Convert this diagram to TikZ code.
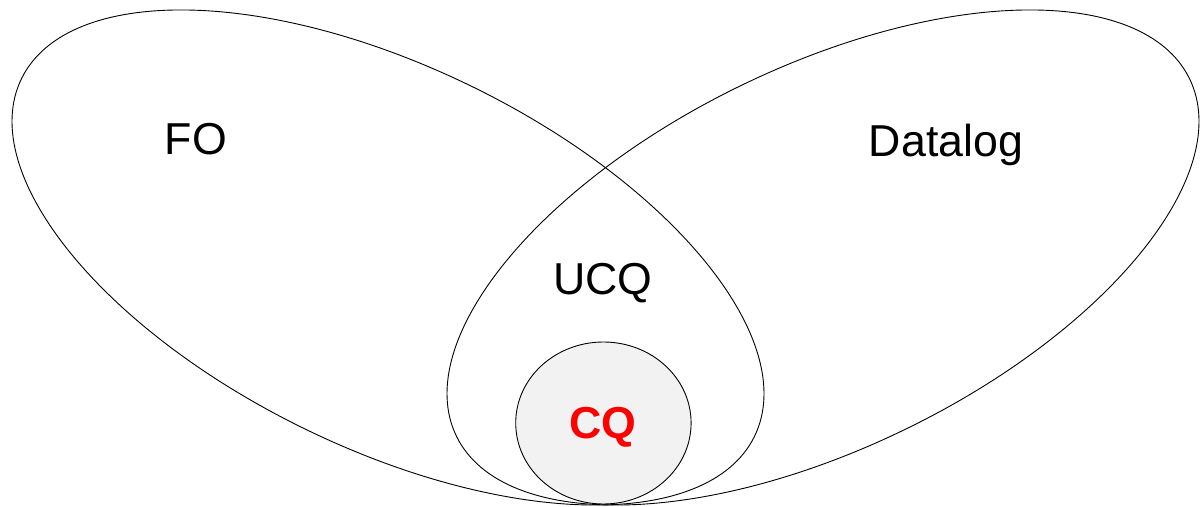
\documentclass[tikz,border=0pt]{standalone}
\usepackage{fontspec}
\setmainfont{Liberation Sans}
\usepackage{xcolor}
\usetikzlibrary{positioning}

\definecolor{cqfill}{HTML}{F2F2F2}
\definecolor{cqred}{HTML}{FF0000}

\begin{document}
\begin{tikzpicture}[
    x=1pt, y=1pt,
    set/.style={draw=black, line width=0.9pt},
    label/.style={anchor=base, inner sep=0pt, font=\fontsize{44.7}{50}\selectfont},
]
    \useasboundingbox (0,0) rectangle (1204,506);

    % Query languages
    \draw[set] (388,248.5) ellipse [x radius=407.8pt, y radius=190.5pt, rotate=-26];
    \draw[set] (823,248.5) ellipse [x radius=407.8pt, y radius=190.5pt, rotate=26];

    % Conjunctive queries
    \draw[set, fill=cqfill] (603.4,83) ellipse [x radius=87.7pt, y radius=81pt];

    % Labels
    \node[label] (fo) at (196,351) {FO};
    \node[label] (datalog) at (946,349) {Datalog};
    \node[label] (ucq) at (603,211) {UCQ};
    \node[label, text=cqred, font=\fontsize{44.7}{50}\selectfont\bfseries] (cq) at (603,68) {CQ};

\end{tikzpicture}
\end{document}
